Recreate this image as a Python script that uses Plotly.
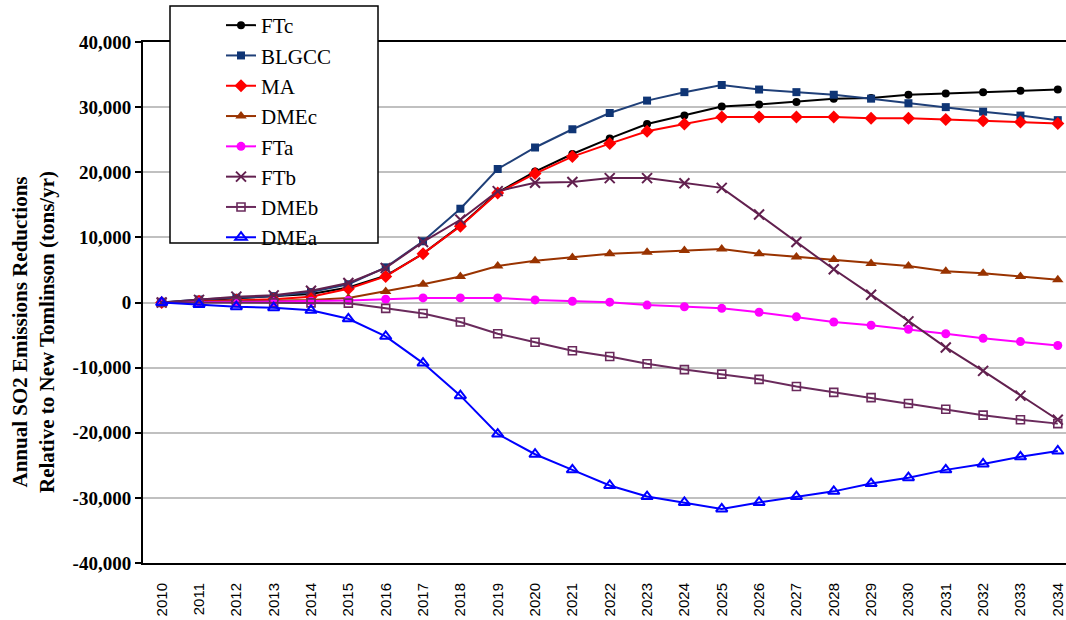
import plotly.graph_objects as go

years = list(range(2010, 2035))

FTc = [0, 300, 600, 900, 1300, 2300, 4100, 7500, 11800, 16900, 20100, 22800, 25200,
       27400, 28700, 30100, 30400, 30800, 31300, 31400, 31900, 32100, 32300, 32500, 32700]
BLGCC = [0, 460, 720, 970, 1600, 2800, 5400, 9400, 14400, 20500, 23800, 26600, 29100,
         31000, 32300, 33400, 32700, 32300, 31900, 31300, 30600, 30000, 29300, 28700, 28000]
MA = [0, 200, 400, 500, 900, 2100, 4000, 7500, 11700, 16800, 19800, 22400, 24400,
      26300, 27400, 28500, 28500, 28500, 28500, 28300, 28300, 28100, 27900, 27700, 27500]
DMEc = [0, 100, 200, 300, 400, 700, 1700, 2800, 4000, 5600, 6400, 6900, 7500,
        7700, 8000, 8200, 7500, 7000, 6600, 6000, 5600, 4800, 4500, 4000, 3500]
FTa = [0, 100, 100, 150, 200, 300, 500, 700, 700, 700, 400, 200, 50,
       -400, -650, -900, -1500, -2200, -3000, -3500, -4100, -4800, -5500, -6000, -6600]
FTb = [0, 400, 900, 1100, 1800, 3000, 5300, 9300, 12700, 17100, 18400, 18500, 19100,
       19100, 18300, 17600, 13500, 9300, 5100, 1200, -2900, -6900, -10500, -14300, -18000]
DMEb = [0, 0, 0, -50, -50, -100, -900, -1700, -3000, -4800, -6100, -7400, -8300,
        -9400, -10300, -11000, -11800, -12900, -13800, -14600, -15500, -16400, -17300, -18000, -18600]
DMEa = [0, -300, -650, -800, -1200, -2500, -5200, -9300, -14300, -20200, -23300, -25700, -28100,
        -29800, -30700, -31700, -30700, -29800, -29000, -27800, -26900, -25700, -24800, -23700, -22800]

y_tickvals = [40000, 30000, 20000, 10000, 0, -10000, -20000, -30000, -40000]
y_ticktext = ["40,000", "30,000", "20,000", "10,000", "0", "-10,000", "-20,000", "-30,000", "-40,000"]

series = [
    ("FTc", FTc, "#000000", dict(symbol="circle", size=8, color="#000000")),
    ("BLGCC", BLGCC, "#1F3F78", dict(symbol="square", size=8, color="#0F3575")),
    ("MA", MA, "#FF0000", dict(symbol="diamond", size=10, color="#FF0000")),
    ("DMEc", DMEc, "#993300", dict(symbol="triangle-up", size=10, color="#993300")),
    ("FTa", FTa, "#FF00FF", dict(symbol="circle", size=9, color="#FF00FF")),
    ("FTb", FTb, "#62204F", dict(symbol="x-thin-open", size=10, color="#62204F",
                                  line=dict(width=2, color="#62204F"))),
    ("DMEb", DMEb, "#6A2A5C", dict(symbol="square-open", size=8, color="#6A2A5C",
                                    line=dict(width=1.6, color="#6A2A5C"))),
    ("DMEa", DMEa, "#0000FF", dict(symbol="triangle-up-open", size=10, color="#0000FF",
                                    line=dict(width=2, color="#0000FF"))),
]

fig = go.Figure()
for name, vals, col, mk in series:
    fig.add_trace(go.Scatter(x=years, y=vals, name=name, mode="lines+markers",
                             line=dict(color=col, width=2), marker=mk))

W, H = 1066, 620
L, R, T, B = 143, 0, 42, 57
pw, ph = W - L - R, H - T - B

def px_x(p):
    return (p - L) / pw

def px_y(p):
    return (H - B - p) / ph

fig.update_layout(
    width=W, height=H,
    margin=dict(l=L, r=R, t=T, b=B),
    paper_bgcolor="white", plot_bgcolor="white",
    showlegend=True,
    legend=dict(x=px_x(221), y=px_y(5), xanchor="left", yanchor="top",
                bgcolor="rgba(0,0,0,0)", borderwidth=0,
                font=dict(family="Liberation Serif", size=21, color="#000000")),
    xaxis=dict(range=[2009.5, 2034.22], tickvals=years, ticktext=[str(y) for y in years],
               tickangle=-90, showgrid=False, showline=True, linecolor="#000000", linewidth=2,
               mirror=True, ticks="outside", ticklen=12, tickcolor="rgba(0,0,0,0)",
               tickfont=dict(family="Liberation Sans", size=15, color="#000000"),
               zeroline=False),
    yaxis=dict(range=[-40000, 40000], tickvals=y_tickvals,
               ticktext=["<b>%s</b>" % t for t in y_ticktext],
               showgrid=True, gridcolor="#C0C0C0", gridwidth=2,
               showline=True, linecolor="#000000", linewidth=2,
               ticks="outside", ticklen=6, tickcolor="#000000", tickwidth=1.5,
               tickfont=dict(family="Liberation Serif", size=19, color="#000000"),
               zeroline=False),
    shapes=[dict(type="rect", xref="paper", yref="paper",
                 x0=px_x(170), x1=px_x(378), y0=px_y(243), y1=px_y(6),
                 fillcolor="white", line=dict(color="#000000", width=1.5), layer="above")],
    annotations=[dict(text="<b>Annual SO2 Emissions Reductions<br>Relative to New Tomlinson (tons/yr)</b>",
                      xref="paper", yref="paper", x=px_x(33), y=px_y(332),
                      xanchor="center", yanchor="middle", textangle=-90, showarrow=False,
                      font=dict(family="Liberation Serif", size=21, color="#000000"))],
)

fig.write_html("out.html")
